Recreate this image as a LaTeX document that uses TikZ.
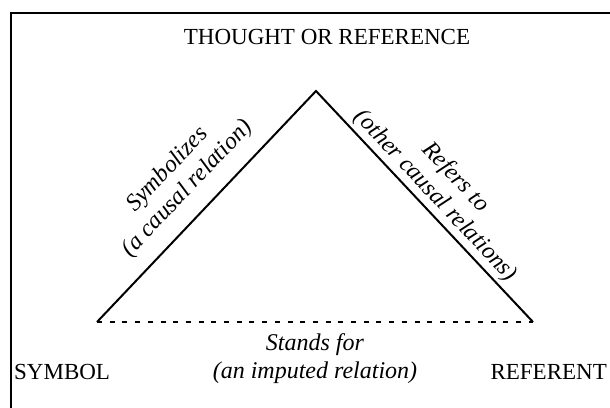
\documentclass[tikz,border=0pt]{standalone}
\usepackage{fontspec}
\setmainfont{Liberation Serif}
\usetikzlibrary{positioning, calc}

\begin{document}
\begin{tikzpicture}[
    x=1pt, y=1pt,
    frame/.style={line width=2.5pt},
    side/.style={line width=2pt},
    imputed/.style={line width=2pt, dash pattern=on 5pt off 7.7pt},
    corner/.style={font=\fontsize{23}{27}\selectfont, inner sep=0pt},
    pin/.style={font=\fontsize{24}{27.5}\selectfont\itshape, align=center, inner sep=0pt}
]
    \useasboundingbox (0,0) rectangle (610,407);
    \clip (0,0) rectangle (610,407);
    \draw[frame] (11,-10) |- (620,394);

    \draw node[corner, anchor=base] (thought) at (327,362) {THOUGHT OR REFERENCE};
    \draw node[corner, anchor=base west] (symbol) at (14,28) {SYMBOL};
    \draw node[corner, anchor=base east] (referent) at (607,28) {REFERENT};

    \coordinate (apex) at (316,316);
    \coordinate (sym) at (97,85);
    \coordinate (ref) at (533,85);

    % the two sides:
    \draw[side] (sym) -- node[pin, sloped, above=14pt] {Symbolizes\\(a causal relation)} (apex)
        -- node[pin, sloped, above=3pt] {Refers to\\(other causal relations)} (ref);

    % the base:
    \draw[imputed] (sym) -- node[pin, below=11pt] {Stands for\\(an imputed relation)} (ref);

\end{tikzpicture}
\end{document}
